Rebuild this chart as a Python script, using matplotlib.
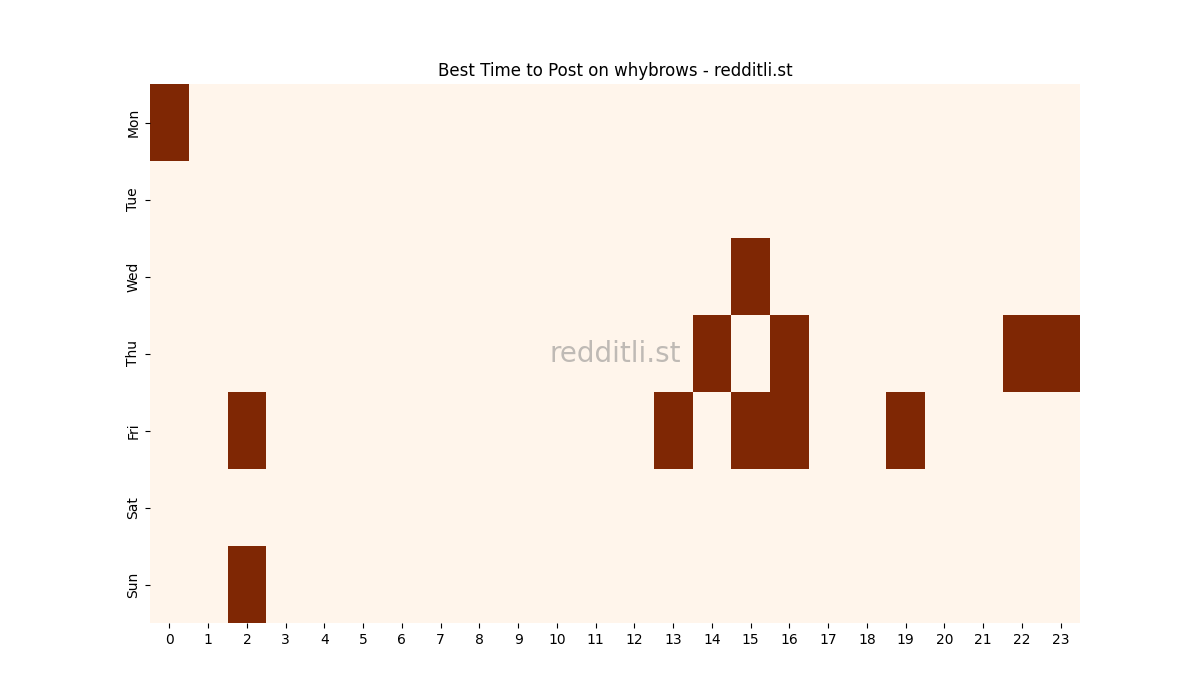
import numpy as np
import matplotlib
matplotlib.use("Agg")
import matplotlib.pyplot as plt

days = ["Mon", "Tue", "Wed", "Thu", "Fri", "Sat", "Sun"]
hours = list(range(24))
mon = [1] + [0] * 23
tue = [0] * 24
wed = [0] * 15 + [1] + [0] * 8
thu = [0] * 14 + [1, 0, 1] + [0] * 5 + [1, 1]
fri = [0, 0, 1] + [0] * 10 + [1, 0, 1, 1, 0, 0, 1] + [0] * 4
sat = [0] * 24
sun = [0, 0, 1] + [0] * 21

data = np.array([mon, tue, wed, thu, fri, sat, sun], dtype=float)

fig = plt.figure(figsize=(12, 7), dpi=100)
ax = fig.add_subplot(111)
ax.pcolormesh(np.arange(len(hours) + 1), np.arange(len(days) + 1), data,
              cmap="Oranges", vmin=0, vmax=1)
ax.set_xlim(0, len(hours))
ax.set_ylim(len(days), 0)
ax.set_xticks(np.arange(len(hours)) + 0.5)
ax.set_xticklabels([str(h) for h in hours])
ax.set_yticks(np.arange(len(days)) + 0.5)
ax.set_yticklabels(days, rotation=90, va="center")
for s in ax.spines.values():
    s.set_visible(False)
ax.set_title("Best Time to Post on whybrows - redditli.st")
ax.text(0.5, 0.5, "redditli.st", transform=ax.transAxes, fontsize=20,
        color="gray", alpha=0.5, ha="center", va="center")
fig.savefig("out.png", dpi=100)
